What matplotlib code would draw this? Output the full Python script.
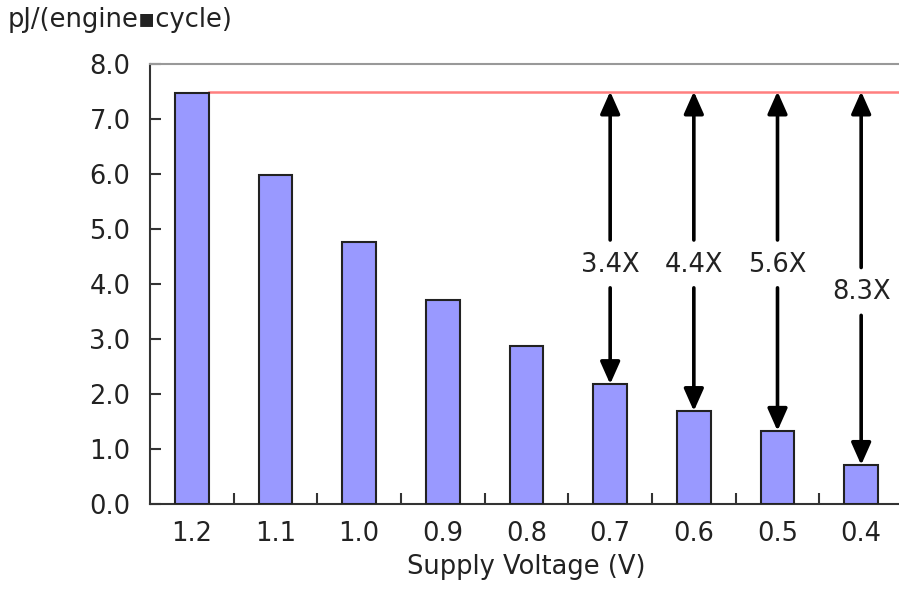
import numpy as np
import matplotlib.pyplot as plt

voltages = ["1.2", "1.1", "1.0", "0.9", "0.8", "0.7", "0.6", "0.5", "0.4"]
energy = [7.47, 5.98, 4.76, 3.71, 2.87, 2.18, 1.69, 1.33, 0.71]
baseline = 7.5
ratio_labels = ["3.4X", "4.4X", "5.6X", "8.3X"]
ratio_idx = [5, 6, 7, 8]
label_y = [4.35, 4.35, 4.35, 3.85]

fs = 18.5
fig = plt.figure(figsize=(8.99, 5.90), dpi=100)
ax = fig.add_axes([150 / 899, 1 - 504 / 590, 753 / 899, 440 / 590])

x = np.arange(len(voltages))
ax.bar(x, energy, width=0.4, color="#9999ff", edgecolor="#222222", linewidth=1.5, zorder=3)

# reference line from the 1.2V bar to the right edge
ax.plot([0.2, 8.6], [baseline, baseline], color="#ff7f7f", linewidth=1.8, zorder=2)

arrow_kw = dict(arrowstyle="-|>,head_width=0.6,head_length=1.35", color="black", lw=2.6,
                shrinkA=0, shrinkB=0)
for i, lab, ly in zip(ratio_idx, ratio_labels, label_y):
    ax.text(i, ly, lab, ha="center", va="center", fontsize=fs, color="#222222", zorder=4)
    ax.annotate("", xy=(i, baseline), xytext=(i, ly + 0.45), arrowprops=arrow_kw, zorder=4)
    ax.annotate("", xy=(i, energy[i]), xytext=(i, ly - 0.42), arrowprops=arrow_kw, zorder=4)

ax.set_xlim(-0.5, 8.5)
ax.set_ylim(0, 8)
ax.set_yticks(np.arange(0, 9, 1))
ax.set_yticklabels(["{:.1f}".format(v) for v in np.arange(0, 9, 1)], fontsize=fs)
ax.set_xticks(x)
ax.set_xticklabels(voltages, fontsize=fs)
ax.set_xticks(np.arange(0.5, 8.5, 1), minor=True)
ax.tick_params(axis="x", which="major", length=0, pad=12, colors="#222222")
ax.tick_params(axis="x", which="minor", direction="in", length=8, width=1.5, color="#333333")
ax.tick_params(axis="y", direction="in", length=8, width=1.5, color="#333333", labelcolor="#222222", pad=14)

for side in ["left", "bottom"]:
    ax.spines[side].set_color("#333333")
    ax.spines[side].set_linewidth(1.5)
ax.spines["top"].set_color("#999999")
ax.spines["top"].set_linewidth(1.5)
ax.spines["right"].set_visible(False)

ax.set_xlabel("Supply Voltage (V)", fontsize=fs, color="#222222", labelpad=5)
fig.text(8 / 899, 1 - 20 / 590, "pJ/(engine\u25aacycle)", fontsize=fs, color="#222222",
         ha="left", va="center")

fig.savefig("out.png", dpi=100)
